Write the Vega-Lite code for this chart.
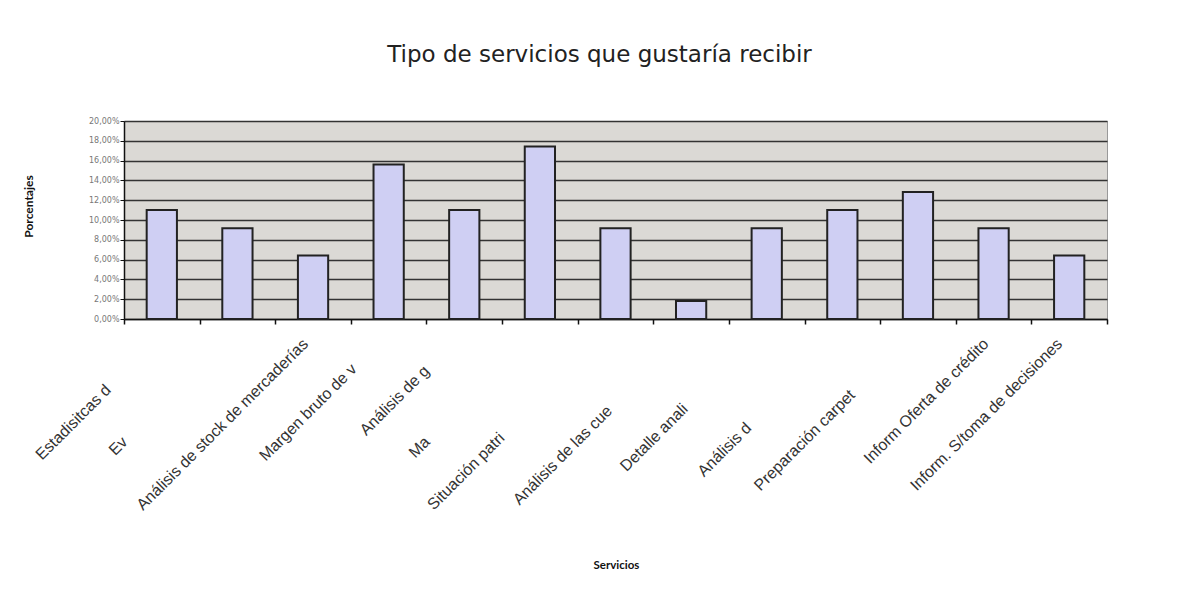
{
  "$schema": "https://vega.github.io/schema/vega-lite/v6.json",
  "width": 983,
  "height": 198,
  "autosize": "none",
  "padding": {"left": 124, "top": 121, "right": 75, "bottom": 276},
  "background": "white",
  "title": {
    "text": "Tipo de servicios que gustaría recibir",
    "font": "DejaVu Sans",
    "fontSize": 23,
    "fontWeight": "normal",
    "color": "#222222",
    "anchor": "middle",
    "dx": -16,
    "offset": 32,
    "baseline": "alphabetic"
  },
  "data": {
    "values": [
      {"servicio": "Estadisitcas d", "porcentaje": 0.1101},
      {"servicio": "Ev", "porcentaje": 0.0917},
      {"servicio": "Análisis de stock de mercaderías", "porcentaje": 0.0642},
      {"servicio": "Margen bruto de v", "porcentaje": 0.1560},
      {"servicio": "Análisis de g", "porcentaje": 0.1101},
      {"servicio": "Ma", "porcentaje": 0.1743},
      {"servicio": "Situación patri", "porcentaje": 0.0917},
      {"servicio": "Análisis de las cue", "porcentaje": 0.0183},
      {"servicio": "Detalle anali", "porcentaje": 0.0917},
      {"servicio": "Análisis d", "porcentaje": 0.1101},
      {"servicio": "Preparación carpet", "porcentaje": 0.1284},
      {"servicio": "Inform Oferta de crédito", "porcentaje": 0.0917},
      {"servicio": "Inform. S/toma de decisiones", "porcentaje": 0.0642}
    ]
  },
  "mark": {"type": "bar", "width": {"band": 0.4}, "fill": "#cfcff3", "stroke": "#222222", "strokeWidth": 2},
  "encoding": {
    "x": {
      "field": "servicio",
      "type": "nominal",
      "sort": null,
      "scale": {"paddingInner": 0, "paddingOuter": 0},
      "axis": {
        "title": "Servicios",
        "titleFont": "Lato",
        "titleFontSize": 11.5,
        "titleFontWeight": "bold",
        "titleColor": "#111111",
        "titleX": 492,
        "titleY": 246,
        "titleAlign": "center",
        "titleBaseline": "middle",
        "labelAngle": -45,
        "labelAlign": "right",
        "labelBaseline": "middle",
        "labelFont": "Liberation Sans",
        "labelFontSize": 16,
        "labelColor": "#333333",
        "labelLimit": 0,
        "labelOverlap": false,
        "labelOffset": {
          "condition": [
            {"test": "datum.value === 'Estadisitcas d'", "value": -54},
            {"test": "datum.value === 'Ev'", "value": -113},
            {"test": "datum.value === 'Margen bruto de v'", "value": -35},
            {"test": "datum.value === 'Análisis de g'", "value": -38},
            {"test": "datum.value === 'Ma'", "value": -113},
            {"test": "datum.value === 'Situación patri'", "value": -114},
            {"test": "datum.value === 'Análisis de las cue'", "value": -82},
            {"test": "datum.value === 'Detalle anali'", "value": -82},
            {"test": "datum.value === 'Análisis d'", "value": -94},
            {"test": "datum.value === 'Preparación carpet'", "value": -66},
            {"test": "datum.value === 'Inform. S/toma de decisiones'", "value": -10}
          ],
          "value": -8
        },
        "labelPadding": {
          "condition": [
            {"test": "datum.value === 'Estadisitcas d'", "value": 63},
            {"test": "datum.value === 'Ev'", "value": 115},
            {"test": "datum.value === 'Margen bruto de v'", "value": 42},
            {"test": "datum.value === 'Análisis de g'", "value": 44},
            {"test": "datum.value === 'Ma'", "value": 115},
            {"test": "datum.value === 'Situación patri'", "value": 111},
            {"test": "datum.value === 'Análisis de las cue'", "value": 84},
            {"test": "datum.value === 'Detalle anali'", "value": 82},
            {"test": "datum.value === 'Análisis d'", "value": 101},
            {"test": "datum.value === 'Preparación carpet'", "value": 68}
          ],
          "value": 17
        },
        "tickBand": "extent",
        "tickSize": 5,
        "tickColor": "#111111",
        "tickWidth": 1.5,
        "domainColor": "#111111",
        "domainWidth": 1.5,
        "grid": false
      }
    },
    "y": {
      "field": "porcentaje",
      "type": "quantitative",
      "scale": {"domain": [0, 0.2]},
      "axis": {
        "title": "Porcentajes",
        "titleFont": "Lato",
        "titleFontSize": 12,
        "titleFontWeight": "bold",
        "titleColor": "#111111",
        "titleAngle": -90,
        "titleX": -96,
        "titleY": 85,
        "titleAlign": "center",
        "titleBaseline": "middle",
        "values": [0, 0.02, 0.04, 0.06, 0.08, 0.1, 0.12, 0.14, 0.16, 0.18, 0.2],
        "labelExpr": "replace(format(datum.value, '.2%'), '.', ',')",
        "labelFont": "DejaVu Sans",
        "labelFontSize": 8,
        "labelColor": "#777777",
        "labelPadding": 1,
        "tickSize": 4,
        "tickColor": "#111111",
        "domainColor": "#111111",
        "domainWidth": 1.5,
        "grid": true,
        "gridColor": "#333333",
        "gridWidth": 1.4
      }
    }
  },
  "config": {
    "view": {"fill": "#dbd9d5", "stroke": "#999999", "strokeWidth": 1}
  }
}
